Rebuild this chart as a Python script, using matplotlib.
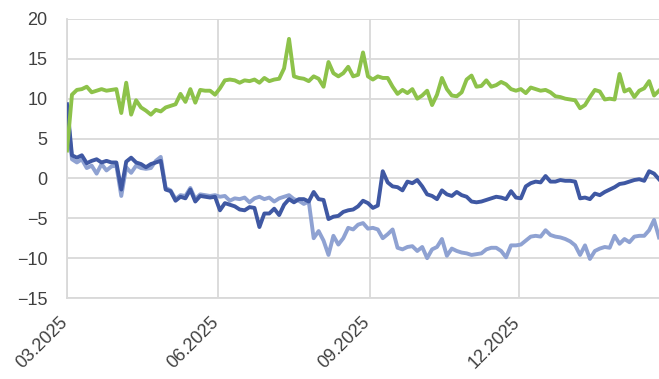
import matplotlib
matplotlib.use("Agg")
import matplotlib.pyplot as plt
import matplotlib.dates as mdates
import matplotlib.transforms as mtransforms
import pandas as pd

# Ряди з кроком у 3 дні, від 01.03.2025
start = "2025-03-01"
step_days = 3

green = [
    3.5, 10.5, 11.1, 11.2, 11.5, 10.8, 11.0, 11.2, 11.0, 11.1,
    11.2, 8.2, 12.0, 8.0, 9.8, 8.9, 8.5, 8.0, 8.6, 8.4,
    8.9, 9.1, 9.3, 10.6, 9.6, 11.2, 9.5, 11.1, 11.0, 11.0,
    10.5, 11.3, 12.3, 12.4, 12.3, 12.0, 12.3, 12.2, 12.4, 12.0,
    12.6, 12.2, 12.4, 12.5, 13.8, 17.5, 12.8, 12.6, 12.5, 12.2,
    12.8, 12.5, 11.5, 14.6, 13.2, 12.8, 13.2, 14.0, 12.8, 13.0,
    15.8, 12.8, 12.4, 12.8, 12.6, 12.6, 11.5, 10.6, 11.1, 10.7,
    11.2, 10.0, 10.4, 11.0, 9.2, 10.5, 12.6, 11.2, 10.4, 10.3,
    10.8, 12.4, 12.9, 11.5, 11.6, 12.3, 11.5, 11.7, 12.1, 11.8,
    11.2, 11.0, 11.2, 10.7, 11.4, 11.2, 11.0, 11.1, 10.8, 10.3,
    10.2, 10.0, 9.9, 9.8, 8.8, 9.2, 10.2, 11.1, 10.9, 9.9,
    10.0, 9.9, 13.1, 10.9, 11.2, 10.2, 11.0, 11.3, 12.2, 10.4,
    11.0,
]

dark_blue = [
    9.3, 2.9, 2.6, 2.9, 1.9, 2.2, 2.4, 2.0, 2.2, 2.0,
    2.0, -1.4, 2.1, 2.6, 2.0, 1.8, 1.4, 1.8, 2.0, 2.2,
    -1.4, -1.6, -2.8, -2.3, -2.5, -1.4, -2.9, -2.2, -2.3, -2.4,
    -2.3, -4.0, -3.1, -3.3, -3.5, -3.9, -4.0, -3.6, -3.7, -6.1,
    -4.4, -4.4, -3.8, -4.6, -3.3, -2.6, -3.0, -2.6, -2.6, -2.9,
    -1.7, -2.6, -2.7, -5.1, -4.8, -4.7, -4.2, -4.0, -3.9, -3.5,
    -2.8, -3.1, -3.7, -3.4, 0.9, -0.5, -1.0, -1.1, -1.5, -0.4,
    -0.6, -0.2, -1.0, -2.0, -2.2, -2.6, -1.5, -2.0, -2.2, -1.7,
    -2.1, -2.3, -2.9, -3.0, -2.9, -2.7, -2.5, -2.3, -2.4, -2.6,
    -1.6, -2.4, -2.5, -1.0, -0.6, -0.4, -0.5, 0.3, -0.4, -0.4,
    -0.2, -0.3, -0.3, -0.4, -2.5, -2.4, -2.6, -1.9, -2.1, -1.7,
    -1.4, -1.1, -0.7, -0.6, -0.4, -0.2, -0.1, -0.3, 0.9, 0.6,
    -0.1,
]

light_blue = [
    8.8, 2.4, 2.0, 2.4, 1.3, 1.6, 0.6, 1.8, 1.0, 1.5,
    1.6, -2.2, 1.4, 0.7, 1.6, 1.3, 1.2, 1.3, 2.2, 2.7,
    -1.2, -1.5, -2.6, -2.1, -2.2, -1.2, -2.6, -2.0, -2.1, -2.2,
    -2.1, -2.3, -2.2, -2.8, -2.5, -2.6, -2.4, -3.0, -2.5, -2.3,
    -2.6, -2.4, -2.9, -2.5, -2.3, -2.1, -2.6, -2.8, -3.2, -2.9,
    -7.5, -6.6, -7.8, -9.6, -7.2, -8.3, -7.5, -6.2, -6.4, -5.8,
    -5.6, -6.3, -6.2, -6.4, -7.5, -7.0, -6.4, -8.7, -8.9, -8.6,
    -8.5, -9.1, -8.6, -10.0, -8.9, -8.6, -7.6, -9.7, -8.8, -9.1,
    -9.3, -9.4, -9.6, -9.5, -9.4, -8.9, -8.7, -8.7, -9.1, -9.9,
    -8.4, -8.4, -8.3, -7.8, -7.3, -7.2, -7.3, -6.5, -7.1, -7.3,
    -7.4, -7.6, -7.9, -8.4, -9.6, -8.4, -10.1, -9.1, -8.8, -8.6,
    -8.7, -7.2, -8.2, -7.6, -8.0, -7.3, -7.2, -7.2, -6.5, -5.2,
    -7.4,
]

tick_dates = ["2025-03-01", "2025-06-01", "2025-09-01", "2025-12-01"]
y_ticks = [-15, -10, -5, 0, 5, 10, 15, 20]

dates = pd.date_range(start, periods=len(green), freq=f"{step_days}D")

plt.rcParams["font.family"] = ["Liberation Sans", "DejaVu Sans"]

fig = plt.figure(figsize=(6.59, 3.79), dpi=100)
ax = fig.add_axes([0.1017, 0.2137, 0.8983, 0.7363])

grid_col = "#D9D9D9"
ax.plot(dates, light_blue, color="#8FA2D2", lw=2.8, solid_joinstyle="round", zorder=3)
ax.plot(dates, dark_blue, color="#3F58A3", lw=2.8, solid_joinstyle="round", zorder=4)
ax.plot(dates, green, color="#8DC24A", lw=2.8, solid_joinstyle="round", zorder=5)

ax.set_ylim(-15, 20)
ax.set_yticks(y_ticks)
ax.set_xlim(dates[0], dates[-1])
ax.set_xticks(pd.to_datetime(tick_dates))
ax.xaxis.set_major_formatter(mdates.DateFormatter("%m.%Y"))

ax.grid(True, color=grid_col, lw=1.3)
ax.set_axisbelow(True)
for side in ["top", "right"]:
    ax.spines[side].set_visible(False)
for side in ["left", "bottom"]:
    ax.spines[side].set_color(grid_col)
    ax.spines[side].set_linewidth(1.3)

ax.tick_params(axis="both", length=0, labelsize=13, labelcolor="#404040")
ax.tick_params(axis="y", pad=14)
ax.tick_params(axis="x", pad=0)

# підписи дат під кутом 45°, зсунуті вниз від позначки
shift = mtransforms.ScaledTranslation(-0.02, -0.22, fig.dpi_scale_trans)
for lab in ax.get_xticklabels():
    lab.set_rotation(45)
    lab.set_ha("right")
    lab.set_va("center")
    lab.set_rotation_mode("anchor")
    lab.set_transform(lab.get_transform() + shift)

fig.savefig("out.png", dpi=100)
